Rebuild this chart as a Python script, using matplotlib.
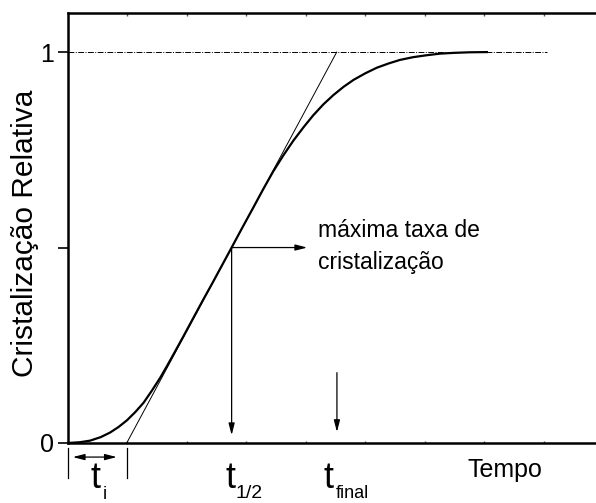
import matplotlib as mpl
mpl.use('Agg')
import matplotlib.pyplot as plt

plt.rcParams['font.family'] = ['Liberation Sans', 'DejaVu Sans']

# Curve (time in arbitrary units, relative crystallisation)
curve_t = [0.0, 0.2, 0.37, 0.55, 0.71, 0.85, 0.99, 1.13, 1.27, 1.41,
           1.55, 1.66, 1.77, 1.94, 2.11, 2.27, 2.43, 2.59, 2.75, 2.93,
           3.11, 3.28, 3.45, 3.62, 3.79, 3.96, 4.12, 4.29, 4.46, 4.63,
           4.80, 5.0, 5.19, 5.39, 5.58, 5.8, 6.03, 6.25, 6.48, 6.75, 7.04]
curve_y = [0.0, 0.002, 0.006, 0.015, 0.027, 0.041, 0.058, 0.079, 0.103, 0.134,
           0.167, 0.196, 0.226, 0.273, 0.321, 0.366, 0.41, 0.455, 0.5, 0.551,
           0.601, 0.649, 0.695, 0.736, 0.774, 0.808, 0.838, 0.866, 0.89, 0.911,
           0.929, 0.946, 0.960, 0.971, 0.980, 0.987, 0.992, 0.996, 0.998, 0.9995, 1.0]

# tangent at the point of maximum rate
tangent_t = [0.987, 4.516]
tangent_y = [0.0, 1.0]

# plateau line
plateau_t = [0.0, 8.05]
plateau_y = [1.0, 1.0]

t_half = 2.75
t_final = 4.52
t_ind = [0.0, 0.987]

yticks = [0, 0.5, 1]
yticklabels = ['0', '', '1']
xticks = [1, 2, 3, 4, 5, 6, 7, 8]

fig = plt.figure(figsize=(5.96, 5.03), dpi=100)
ax = fig.add_axes([68/596, 60/503, 528/596, 430/503])

ax.plot(curve_t, curve_y, color='black', lw=1.6, solid_joinstyle='round', zorder=3)
ax.plot(tangent_t, tangent_y, color='black', lw=0.7)
ax.plot(plateau_t, plateau_y, color='black', lw=0.7, linestyle=(0, (6, 1.5, 1, 1.5)))

ax.set_xlim(0, 8.874)
ax.set_ylim(0, 1.1)

for s in ['left', 'top', 'bottom']:
    ax.spines[s].set_linewidth(1.8)
ax.spines['right'].set_visible(False)

ax.set_yticks(yticks)
ax.set_yticklabels(yticklabels, fontsize=18)
ax.tick_params(axis='y', direction='out', length=7, width=1.2, pad=3)
ax.set_xticks(xticks)
ax.set_xticklabels([])
ax.tick_params(axis='x', direction='in', length=1.8, width=1.0, top=True, bottom=True,
               color='#555555')

# arrows from the point of maximum rate
arr = dict(arrowstyle='-|>,head_length=0.7,head_width=0.18', color='black', lw=0.9,
           shrinkA=0, shrinkB=0)
ax.annotate('', xy=(t_half, 0.02), xytext=(t_half, 0.5), arrowprops=arr)
ax.annotate('', xy=(4.02, 0.5), xytext=(t_half, 0.5), arrowprops=arr)
ax.annotate('', xy=(t_final, 0.028), xytext=(t_final, 0.18), arrowprops=arr)

# induction time marker below the axis
for x in t_ind:
    ax.plot([x, x], [-0.013, -0.09], color='black', lw=0.9, clip_on=False)
arr2 = dict(arrowstyle='<|-|>,head_length=0.7,head_width=0.18', color='black', lw=0.9,
            shrinkA=0, shrinkB=0)
ax.annotate('', xy=(0.08, -0.036), xytext=(0.82, -0.036), arrowprops=arr2,
            annotation_clip=False)

ax.text(4.2, 0.528, 'máxima taxa de', fontsize=16.5, va='baseline')
ax.text(4.2, 0.446, 'cristalização', fontsize=16.5, va='baseline')

ax.text(0.38, -0.115, 't', fontsize=26, va='baseline', clip_on=False)
ax.text(0.58, -0.142, 'i', fontsize=13, va='baseline', clip_on=False)
ax.text(2.64, -0.115, 't', fontsize=26, va='baseline', clip_on=False)
ax.text(2.81, -0.141, '1/2', fontsize=14, va='baseline', clip_on=False)
ax.text(4.30, -0.115, 't', fontsize=26, va='baseline', clip_on=False)
ax.text(4.50, -0.141, 'final', fontsize=13, va='baseline', clip_on=False)
ax.text(6.71, -0.087, 'Tempo', fontsize=18, va='baseline', clip_on=False)

fig.text(25/596, 1 - 233/503, 'Cristalização Relativa', fontsize=21.5,
         rotation=90, ha='center', va='center')

plt.savefig('out.png', dpi=100)
